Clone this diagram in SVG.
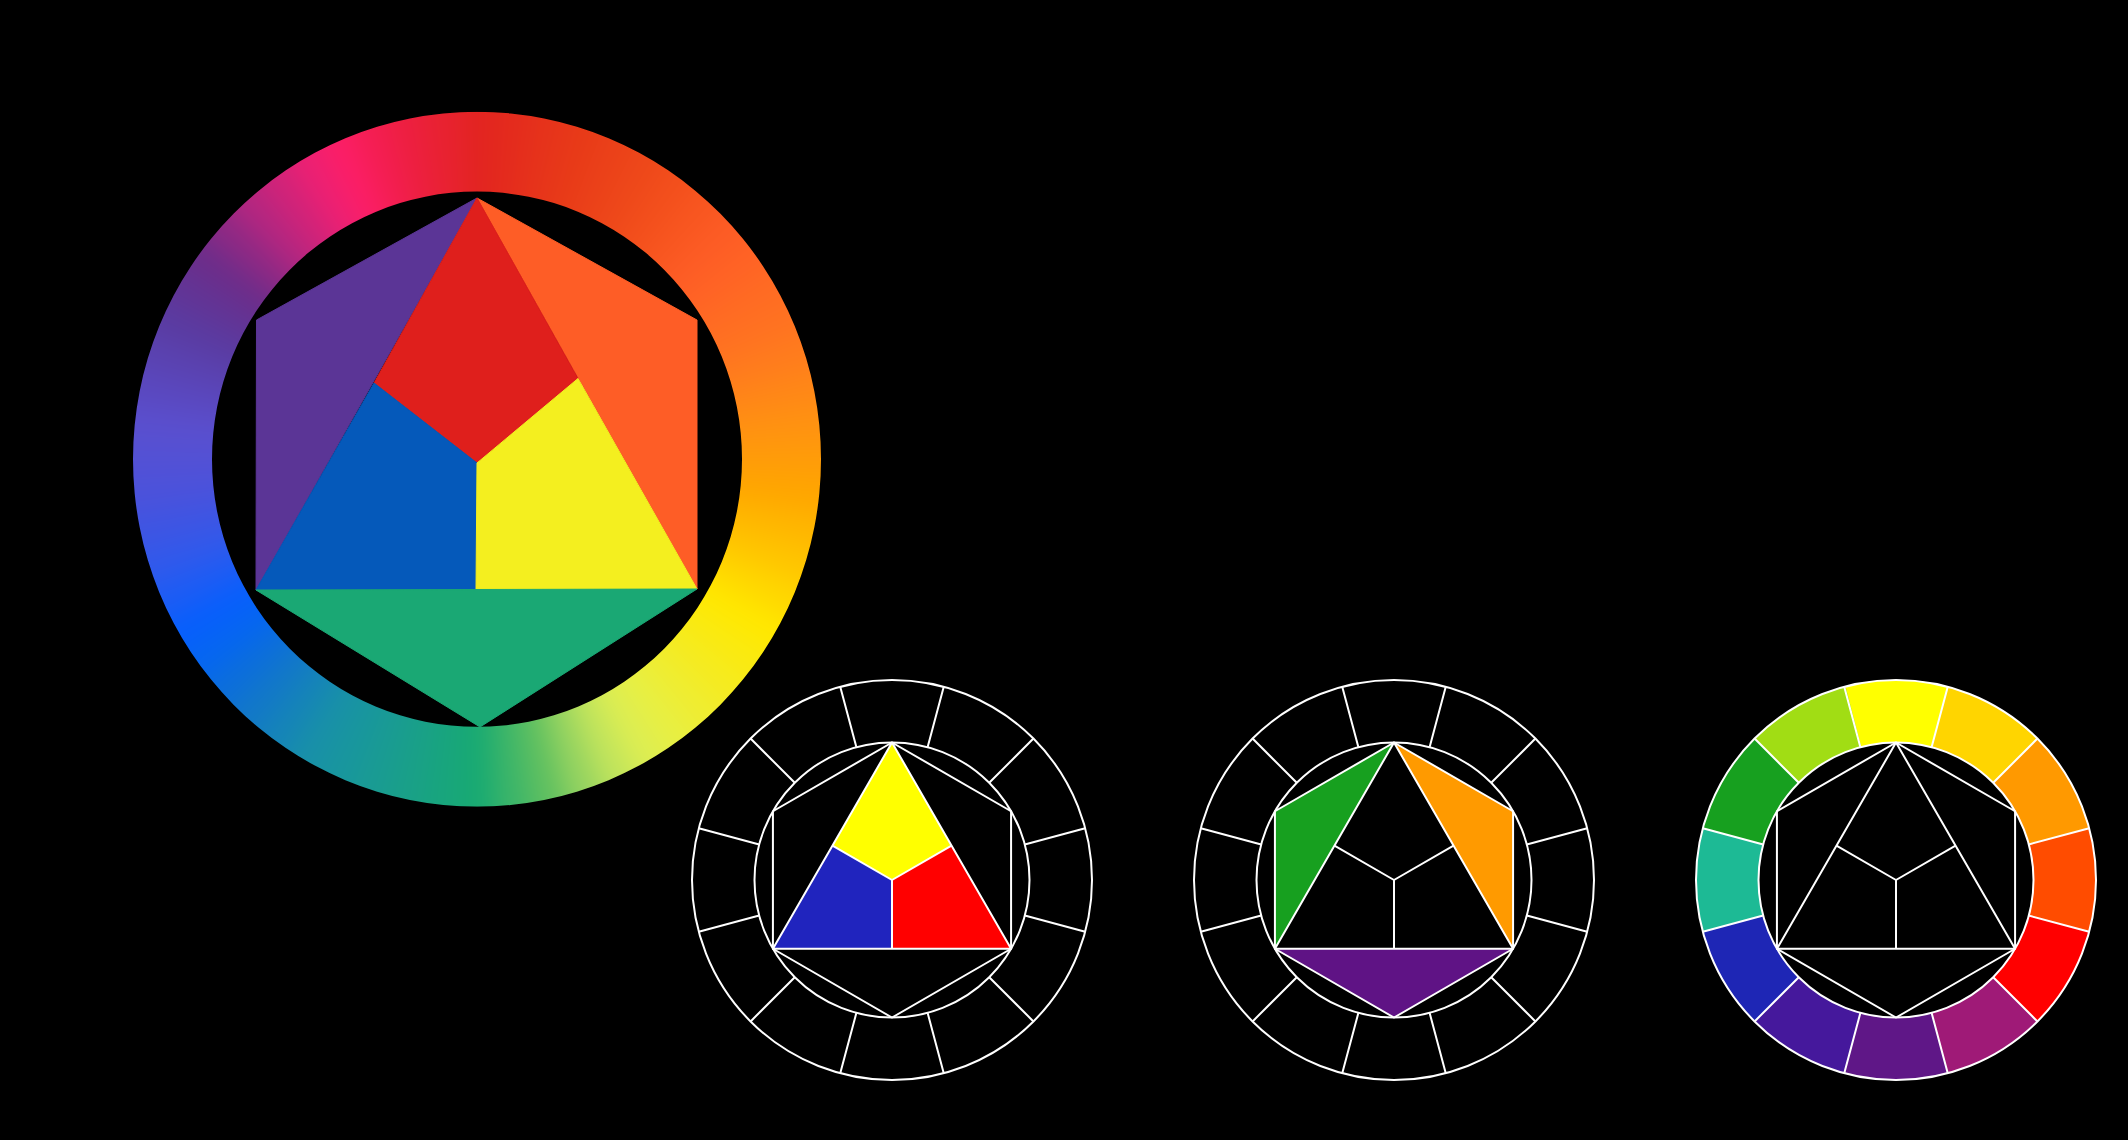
<svg xmlns="http://www.w3.org/2000/svg" xmlns:xlink="http://www.w3.org/1999/xlink" width="2128" height="1140" viewBox="0 0 2128 1140">
<style>
.ln{fill:none;stroke:#ffffff;stroke-width:2;stroke-linejoin:round}
</style>
<defs>
<circle id="w" r="305" pathLength="360" fill="none" stroke-width="170" stroke-dasharray="6.6 353.4"/>
<circle id="s" r="168.75" pathLength="360" fill="none" stroke-width="62.5" stroke-dasharray="30.4 329.6"/>
<filter id="soft" x="-0.4" y="-0.4" width="1.8" height="1.8" color-interpolation-filters="sRGB"><feGaussianBlur stdDeviation="13"/></filter>
<clipPath id="ringClip"><path clip-rule="evenodd" d="M-344 0A344 344 0 1 0 344 0A344 344 0 1 0 -344 0ZM-265 0A265 265 0 1 0 265 0A265 265 0 1 0 -265 0Z"/></clipPath>
<g id="frame" class="ln">
<circle r="200"/>
<circle r="137.5"/>
<path d="M35.59 -132.81L51.76 -193.19M97.23 -97.23L141.42 -141.42M132.81 -35.59L193.19 -51.76M132.81 35.59L193.19 51.76M97.23 97.23L141.42 141.42M35.59 132.81L51.76 193.19M-35.59 132.81L-51.76 193.19M-97.23 97.23L-141.42 141.42M-132.81 35.59L-193.19 51.76M-132.81 -35.59L-193.19 -51.76M-97.23 -97.23L-141.42 -141.42M-35.59 -132.81L-51.76 -193.19"/>
<polygon points="0,-137.5 119.08,-68.75 119.08,68.75 0,137.5 -119.08,68.75 -119.08,-68.75"/>
<polygon points="0,-137.5 119.08,68.75 -119.08,68.75"/>
<path d="M0 0L-59.54 -34.375M0 0L59.54 -34.375M0 0L0 68.75"/>
</g>
</defs>
<rect width="2128" height="1140" fill="#000000"/>

<g id="big-wheel">
<g id="big-ring" transform="translate(477 459.2) scale(1 1.01)" clip-path="url(#ringClip)">
<g filter="url(#soft)">
<use href="#w" stroke="#E22420" transform="rotate(-93)"/>
<use href="#w" stroke="#E42B1D" transform="rotate(-87)"/>
<use href="#w" stroke="#E6331B" transform="rotate(-81)"/>
<use href="#w" stroke="#E83A18" transform="rotate(-75)"/>
<use href="#w" stroke="#EB4119" transform="rotate(-69)"/>
<use href="#w" stroke="#EE481A" transform="rotate(-63)"/>
<use href="#w" stroke="#F34F1C" transform="rotate(-57)"/>
<use href="#w" stroke="#F85620" transform="rotate(-51)"/>
<use href="#w" stroke="#FD5C25" transform="rotate(-45)"/>
<use href="#w" stroke="#FF6325" transform="rotate(-39)"/>
<use href="#w" stroke="#FF6B23" transform="rotate(-33)"/>
<use href="#w" stroke="#FF7221" transform="rotate(-27)"/>
<use href="#w" stroke="#FF7C1D" transform="rotate(-21)"/>
<use href="#w" stroke="#FF8717" transform="rotate(-15)"/>
<use href="#w" stroke="#FF9211" transform="rotate(-9)"/>
<use href="#w" stroke="#FF9C09" transform="rotate(-3)"/>
<use href="#w" stroke="#FFA600" transform="rotate(3)"/>
<use href="#w" stroke="#FFB600" transform="rotate(9)"/>
<use href="#w" stroke="#FFC500" transform="rotate(15)"/>
<use href="#w" stroke="#FFD700" transform="rotate(21)"/>
<use href="#w" stroke="#FFE800" transform="rotate(27)"/>
<use href="#w" stroke="#FAEA10" transform="rotate(33)"/>
<use href="#w" stroke="#F5EB20" transform="rotate(39)"/>
<use href="#w" stroke="#EFED31" transform="rotate(45)"/>
<use href="#w" stroke="#E8EF42" transform="rotate(51)"/>
<use href="#w" stroke="#DDEE52" transform="rotate(57)"/>
<use href="#w" stroke="#C1E45C" transform="rotate(63)"/>
<use href="#w" stroke="#95D360" transform="rotate(69)"/>
<use href="#w" stroke="#60C060" transform="rotate(75)"/>
<use href="#w" stroke="#3CB569" transform="rotate(81)"/>
<use href="#w" stroke="#18AA72" transform="rotate(87)"/>
<use href="#w" stroke="#18A57D" transform="rotate(93)"/>
<use href="#w" stroke="#19A088" transform="rotate(99)"/>
<use href="#w" stroke="#199B93" transform="rotate(105)"/>
<use href="#w" stroke="#18969E" transform="rotate(111)"/>
<use href="#w" stroke="#1890A8" transform="rotate(117)"/>
<use href="#w" stroke="#1584B8" transform="rotate(123)"/>
<use href="#w" stroke="#1278C8" transform="rotate(129)"/>
<use href="#w" stroke="#0C6EDB" transform="rotate(135)"/>
<use href="#w" stroke="#0566F1" transform="rotate(141)"/>
<use href="#w" stroke="#075FFC" transform="rotate(147)"/>
<use href="#w" stroke="#1D5CF4" transform="rotate(153)"/>
<use href="#w" stroke="#3159EB" transform="rotate(159)"/>
<use href="#w" stroke="#3E55E3" transform="rotate(165)"/>
<use href="#w" stroke="#4B52DB" transform="rotate(171)"/>
<use href="#w" stroke="#5351D5" transform="rotate(177)"/>
<use href="#w" stroke="#5A4FCE" transform="rotate(183)"/>
<use href="#w" stroke="#5A48BF" transform="rotate(189)"/>
<use href="#w" stroke="#5A42B0" transform="rotate(195)"/>
<use href="#w" stroke="#5A3BA1" transform="rotate(201)"/>
<use href="#w" stroke="#623495" transform="rotate(207)"/>
<use href="#w" stroke="#6C2D8A" transform="rotate(213)"/>
<use href="#w" stroke="#8E2984" transform="rotate(219)"/>
<use href="#w" stroke="#B42680" transform="rotate(225)"/>
<use href="#w" stroke="#D02379" transform="rotate(231)"/>
<use href="#w" stroke="#EC2073" transform="rotate(237)"/>
<use href="#w" stroke="#FC1E67" transform="rotate(243)"/>
<use href="#w" stroke="#F41E52" transform="rotate(249)"/>
<use href="#w" stroke="#ED1F40" transform="rotate(255)"/>
<use href="#w" stroke="#E82230" transform="rotate(261)"/>
</g>
</g>
<g id="big-hexagon" stroke-width="1" stroke-linejoin="round">
<polygon fill="#5B3596" stroke="#5B3596" points="477,198 256.5,320 256,590"/>
<polygon fill="#FE5D26" stroke="#FE5D26" points="477,198 697,320 697,589"/>
<polygon fill="#DF1F1C" stroke="#DF1F1C" points="477,198 374,383 477,463 578,378.5"/>
<polygon fill="#0559BA" stroke="#0559BA" points="374,383 477,463 476,589.5 256,590"/>
<polygon fill="#F4EF1F" stroke="#F4EF1F" points="578,378.5 697,589 476,589.5 477,463"/>
<polygon fill="#1AA874" stroke="#1AA874" points="256,590 697,589 480,727"/>
</g>
</g>

<g id="wheel-primary" transform="translate(892 880)">
<polygon fill="#FFFF00" points="0,-137.5 59.54,-34.375 0,0 -59.54,-34.375"/>
<polygon fill="#2024BE" points="-59.54,-34.375 0,0 0,68.75 -119.08,68.75"/>
<polygon fill="#FF0000" points="59.54,-34.375 119.08,68.75 0,68.75 0,0"/>
<use href="#frame"/>
</g>

<g id="wheel-secondary" transform="translate(1394 880)">
<polygon fill="#17A01F" points="0,-137.5 -119.08,-68.75 -119.08,68.75"/>
<polygon fill="#FF9A00" points="0,-137.5 119.08,-68.75 119.08,68.75"/>
<polygon fill="#5F1385" points="-119.08,68.75 119.08,68.75 0,137.5"/>
<use href="#frame"/>
</g>

<g id="wheel-twelve" transform="translate(1896 880)">
<use href="#s" stroke="#FFFF00" transform="rotate(-105)"/>
<use href="#s" stroke="#FFD500" transform="rotate(-75)"/>
<use href="#s" stroke="#FF9900" transform="rotate(-45)"/>
<use href="#s" stroke="#FF4C00" transform="rotate(-15)"/>
<use href="#s" stroke="#FF0000" transform="rotate(15)"/>
<use href="#s" stroke="#9F1A77" transform="rotate(45)"/>
<use href="#s" stroke="#5F1787" transform="rotate(75)"/>
<use href="#s" stroke="#45189C" transform="rotate(105)"/>
<use href="#s" stroke="#1E26B5" transform="rotate(135)"/>
<use href="#s" stroke="#1DBA95" transform="rotate(165)"/>
<use href="#s" stroke="#17A01F" transform="rotate(195)"/>
<use href="#s" stroke="#A1DD14" transform="rotate(225)"/>
<use href="#frame"/>
</g>

<g id="connectors"></g>
</svg>
